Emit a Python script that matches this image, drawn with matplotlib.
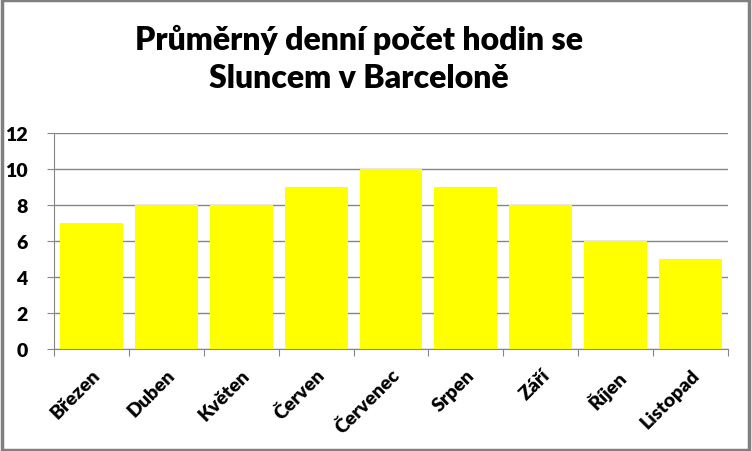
import matplotlib.pyplot as plt
from matplotlib.patches import Rectangle

# Data
months = ['Březen', 'Duben', 'Květen', 'Červen', 'Červenec', 'Srpen', 'Září', 'Říjen', 'Listopad']
hours = [7, 8, 8, 9, 10, 9, 8, 6, 5]
yticks = [0, 2, 4, 6, 8, 10, 12]

plt.rcParams['font.family'] = ['Lato', 'DejaVu Sans']

fig = plt.figure(figsize=(7.52, 4.52), dpi=100)
ax = fig.add_axes([54 / 752, 1 - 350 / 452, 674 / 752, 216 / 452])

x = list(range(len(months)))
ax.bar(x, hours, width=0.84, color='#FFFF00', zorder=3)

ax.set_xlim(-0.5, len(months) - 0.5)
ax.set_ylim(0, 12)
ax.set_yticks(yticks)
ax.set_yticklabels([str(v) for v in yticks], fontsize=14, fontweight='heavy')
ax.grid(axis='y', color='#868686', linewidth=1, zorder=0)

# category ticks between bars
ax.set_xticks([i - 0.5 for i in range(len(months) + 1)])
ax.set_xticklabels([])
ax.set_xticks(x, minor=True)
ax.set_xticklabels(months, minor=True, rotation=45, ha='right', va='top',
                   rotation_mode='anchor', fontsize=14, fontweight='heavy')
ax.tick_params(axis='x', which='minor', length=0, pad=12)
ax.tick_params(axis='x', which='major', length=5, color='#868686')
ax.tick_params(axis='y', length=5, color='#868686', pad=14)

for s in ['top', 'right']:
    ax.spines[s].set_visible(False)
for s in ['left', 'bottom']:
    ax.spines[s].set_color('#868686')

fig.text(359 / 752, 1 - 59 / 452, 'Průměrný denní počet hodin se\nSluncem v Barceloně',
         ha='center', va='center', fontsize=23, fontweight='heavy', linespacing=1.35)

# outer frame
fig.patches.append(Rectangle((0.002, 0.003), 0.994, 0.994, transform=fig.transFigure,
                             fill=False, edgecolor='#808080', linewidth=2.5))

fig.savefig('out.png', dpi=100)
